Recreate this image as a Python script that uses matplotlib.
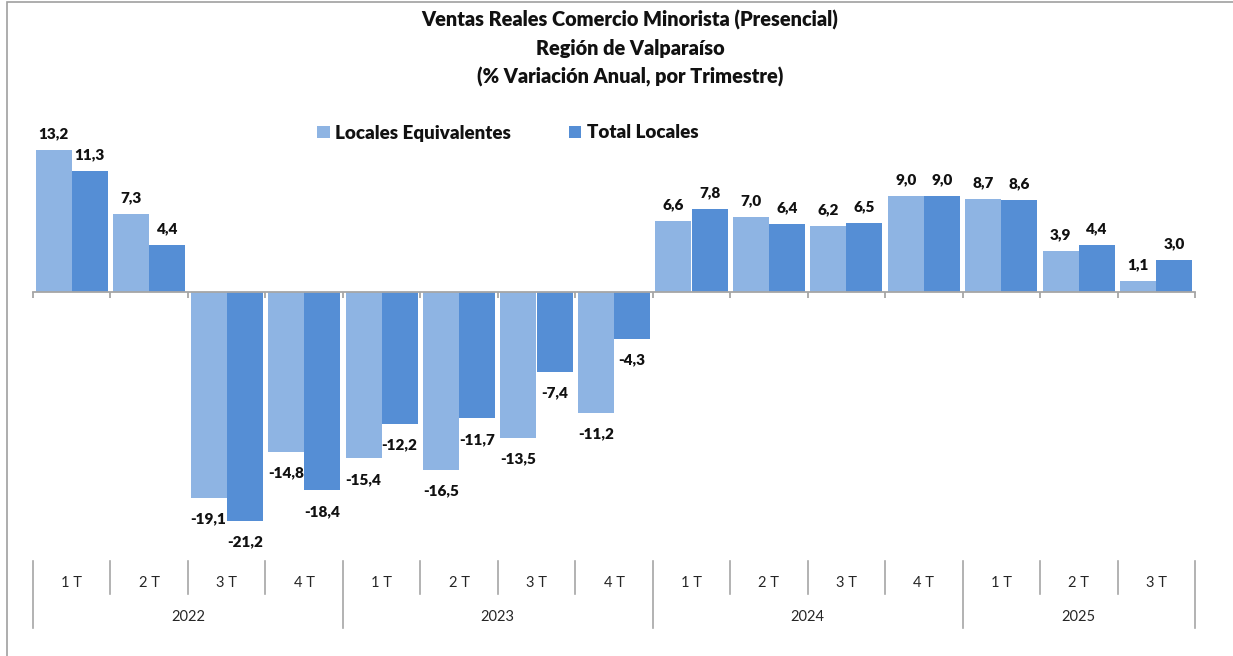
import matplotlib
matplotlib.use("Agg")
import matplotlib.pyplot as plt
from matplotlib.transforms import blended_transform_factory
from matplotlib.patches import Rectangle
import numpy as np

plt.rcParams['font.family'] = ['Lato', 'DejaVu Sans']

quarters = ["1 T", "2 T", "3 T", "4 T", "1 T", "2 T", "3 T", "4 T",
            "1 T", "2 T", "3 T", "4 T", "1 T", "2 T", "3 T"]
years = ["2022", "2023", "2024", "2025"]
year_counts = [4, 4, 4, 3]
locales_equiv = [13.2, 7.3, -19.1, -14.8, -15.4, -16.5, -13.5, -11.2,
                 6.6, 7.0, 6.2, 9.0, 8.7, 3.9, 1.1]
total_locales = [11.3, 4.4, -21.2, -18.4, -12.2, -11.7, -7.4, -4.3,
                 7.8, 6.4, 6.5, 9.0, 8.6, 4.4, 3.0]

W, H = 1233, 656
fig = plt.figure(figsize=(W / 100, H / 100), dpi=100)
ax = fig.add_axes([33 / W, 0.1441, 1162 / W, 0.6479])

c_light = "#8EB4E3"
c_dark = "#558ED5"
grey = "#A6A6A6"

n = len(quarters)
x = np.arange(n)
bw = 0.465
off = 0.233
b1 = ax.bar(x - off, locales_equiv, bw, color=c_light, label="Locales Equivalentes", zorder=2)
b2 = ax.bar(x + off, total_locales, bw, color=c_dark, label="Total Locales", zorder=2)

ax.set_xlim(-0.5, n - 0.5)
ax.set_ylim(-25, 14.5)

def fmt(v):
    return f"{v:.1f}".replace(".", ",")

for bars, vals in ((b1, locales_equiv), (b2, total_locales)):
    for rect, v in zip(bars, vals):
        cx = rect.get_x() + rect.get_width() / 2
        if v >= 0:
            ax.annotate(fmt(v), (cx, v), xytext=(0, 7), textcoords="offset points",
                        ha="center", va="bottom", fontsize=11, fontweight="heavy", color="#111111")
        else:
            ax.annotate(fmt(v), (cx, v), xytext=(0, -10.5), textcoords="offset points",
                        ha="center", va="top", fontsize=11, fontweight="heavy", color="#111111")

for s in ["top", "right", "left"]:
    ax.spines[s].set_visible(False)
ax.spines["bottom"].set_position(("data", 0))
ax.spines["bottom"].set_color(grey)
ax.spines["bottom"].set_linewidth(1.3)
ax.spines["bottom"].set_zorder(3)
ax.set_yticks([])
ax.set_xticks(np.arange(-0.5, n, 1.0))
ax.set_xticklabels([])
ax.tick_params(axis="x", direction="out", length=4, width=1.3, color=grey)

# category table below
tr = blended_transform_factory(ax.transData, fig.transFigure)
y_top = 1 - 561 / H
y_mid = 1 - 594 / H
y_bot = 1 - 628 / H
y_q = 1 - 583 / H
y_y = 1 - 617 / H

boundaries = np.cumsum([0] + year_counts) - 0.5
for i in range(n + 1):
    bx = i - 0.5
    yb = y_bot if bx in boundaries else y_mid
    ax.plot([bx, bx], [y_top, yb], color=grey, lw=1.2, transform=tr, clip_on=False)
for i, q in enumerate(quarters):
    ax.text(i, y_q, q, transform=tr, ha="center", va="center", fontsize=10.5, color="#262626")
for k, yr in enumerate(years):
    cx = (boundaries[k] + boundaries[k + 1]) / 2
    ax.text(cx, y_y, yr, transform=tr, ha="center", va="center", fontsize=10.5, color="#262626")

# title
for yy, line in ((20, "Ventas Reales Comercio Minorista (Presencial)"),
                 (48, "Región de Valparaíso"),
                 (77, "(% Variación Anual, por Trimestre)")):
    fig.text(630 / W, 1 - yy / H, line, ha="center", va="center",
             fontsize=14.3, fontweight="heavy", color="#111111")

# legend
leg = fig.legend(handles=[b1, b2], loc="center", bbox_to_anchor=(508 / W, 1 - 133 / H), ncol=2,
                 frameon=False, prop={"size": 13.5, "weight": "heavy"}, handlelength=0.65,
                 handleheight=0.65, handletextpad=0.3, columnspacing=3.1)
for t in leg.get_texts():
    t.set_color("#111111")

# outer border
fig.patches.append(Rectangle((7 / W, -0.05), 1.2, 1 - 2 / H + 0.05, transform=fig.transFigure,
                             fill=False, edgecolor="#A0A0A0", lw=1.2))

fig.savefig("out.png", dpi=100)
